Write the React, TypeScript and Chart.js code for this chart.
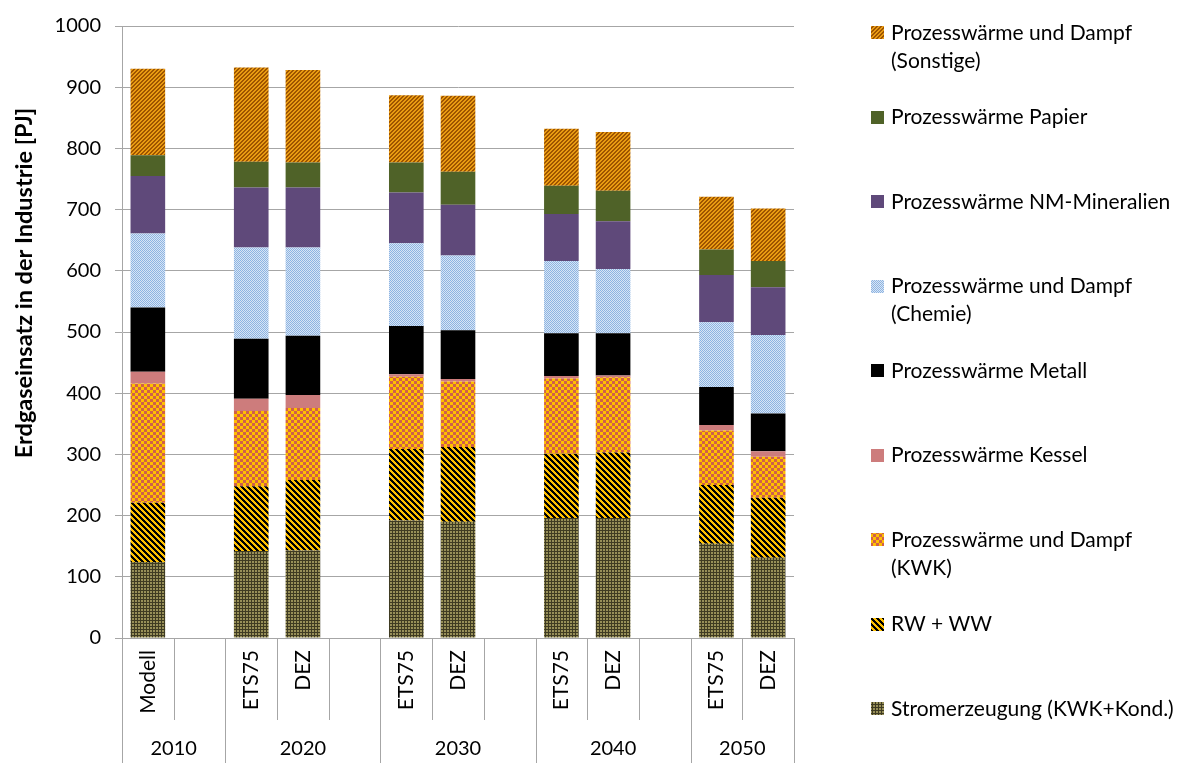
import React, { useEffect, useRef } from 'react';
import { Chart, registerables } from 'chart.js';

Chart.register(...registerables);

// Category slots along the x axis (empty strings are spacer slots)
const slotLabels = ['Modell', '', 'ETS75', 'DEZ', '', 'ETS75', 'DEZ', '', 'ETS75', 'DEZ', '', 'ETS75', 'DEZ'];
// Year groups and how many slots each one spans
const years = ['2010', '2020', '2030', '2040', '2050'];
const yearSlotCounts = [2, 3, 3, 3, 2];

// Natural gas use in industry [PJ], per slot (null = spacer slot)
const stromerzeugung = [124, null, 142, 143, null, 192, 190, null, 196, 196, null, 154, 131];
const rwWw = [97, null, 106, 115, null, 117, 122, null, 105, 107, null, 96, 98];
const kwk = [195, null, 123, 118, null, 118, 107, null, 123, 123, null, 89, 67];
const kessel = [19, null, 20, 21, null, 4, 4, null, 4, 3, null, 9, 9];
const metall = [105, null, 98, 97, null, 79, 80, null, 70, 69, null, 62, 62];
const chemie = [121, null, 149, 144, null, 135, 122, null, 118, 105, null, 106, 128];
const nmMineralien = [94, null, 98, 98, null, 83, 83, null, 77, 78, null, 77, 78];
const papier = [34, null, 42, 41, null, 49, 54, null, 46, 50, null, 42, 43];
const sonstige = [141, null, 154, 151, null, 110, 124, null, 93, 96, null, 86, 86];

const yTicksMax = 1000;
const yTickStep = 100;
const yTitle = 'Erdgaseinsatz in der Industrie [PJ]';

const FONT = 'Lato, "Liberation Sans", sans-serif';
const GRID = '#A6A6A6';

type Painter = (x: number, y: number) => string;

function pixelPattern(size: number, paint: Painter): CanvasPattern | string {
  const c = document.createElement('canvas');
  c.width = size;
  c.height = size;
  const g = c.getContext('2d');
  if (!g) return '#888';
  for (let y = 0; y < size; y++) {
    for (let x = 0; x < size; x++) {
      g.fillStyle = paint(x, y);
      g.fillRect(x, y, 1, 1);
    }
  }
  const p = g.createPattern(c, 'repeat');
  return p || '#888';
}

function makeFills() {
  return {
    sonstige: pixelPattern(4, (x, y) => ((x + y) % 4 < 2 ? '#E99B12' : '#9E5400')),
    papier: '#4F6228',
    nm: '#5F497A',
    chemie: pixelPattern(2, (x, y) => ((x + y) % 2 === 0 ? '#8DB4E2' : '#D8E5F5')),
    metall: '#000000',
    kessel: '#CD7C7C',
    kwk: pixelPattern(6, (x, y) => ((Math.floor(x / 3) + Math.floor(y / 3)) % 2 === 0 ? '#FFC000' : '#D0604A')),
    rw: pixelPattern(6, (x, y) => ((x - y + 12) % 6 < 3 ? '#000000' : '#FFC000')),
    strom: pixelPattern(3, (x, y) => (x === 2 || y === 2 ? '#3F3B22' : '#978F58')),
  };
}

export default function App() {
  const canvasRef = useRef<HTMLCanvasElement | null>(null);

  useEffect(() => {
    const canvas = canvasRef.current;
    if (!canvas) return;
    const f = makeFills();

    const datasets = [
      { label: 'Stromerzeugung (KWK+Kond.)', data: stromerzeugung, backgroundColor: f.strom },
      { label: 'RW + WW', data: rwWw, backgroundColor: f.rw },
      { label: 'Prozesswärme und Dampf\n(KWK)', data: kwk, backgroundColor: f.kwk },
      { label: 'Prozesswärme Kessel', data: kessel, backgroundColor: f.kessel },
      { label: 'Prozesswärme Metall', data: metall, backgroundColor: f.metall },
      { label: 'Prozesswärme und Dampf\n(Chemie)', data: chemie, backgroundColor: f.chemie },
      { label: 'Prozesswärme NM-Mineralien', data: nmMineralien, backgroundColor: f.nm },
      { label: 'Prozesswärme Papier', data: papier, backgroundColor: f.papier },
      { label: 'Prozesswärme und Dampf\n(Sonstige)', data: sonstige, backgroundColor: f.sonstige },
    ].map((d) => ({ ...d, borderWidth: 0, categoryPercentage: 1, barPercentage: 0.67 }));

    // Two-row category axis: slot separators and year labels, plus the y title
    const groupAxis = {
      id: 'groupAxis',
      afterDraw(chart: any) {
        const { ctx, chartArea } = chart;
        const xs = chart.scales.x;
        const n = slotLabels.length;
        const slot = (chartArea.right - chartArea.left) / n;
        const bounds = new Set<number>([0]);
        let acc = 0;
        yearSlotCounts.forEach((c) => {
          acc += c;
          bounds.add(acc);
        });
        ctx.save();
        ctx.strokeStyle = GRID;
        ctx.lineWidth = 1;
        for (let i = 0; i <= n; i++) {
          const x = Math.round(xs.getPixelForValue(0) - slot / 2 + i * slot) + 0.5;
          const yEnd = bounds.has(i) ? chart.height : chartArea.bottom + 82;
          ctx.beginPath();
          ctx.moveTo(x, chartArea.bottom);
          ctx.lineTo(x, yEnd);
          ctx.stroke();
        }
        ctx.fillStyle = '#000';
        ctx.font = `20px ${FONT}`;
        ctx.textAlign = 'center';
        ctx.textBaseline = 'middle';
        let start = 0;
        years.forEach((yr, k) => {
          const c = yearSlotCounts[k];
          const x = xs.getPixelForValue(0) - slot / 2 + (start + c / 2) * slot;
          ctx.fillText(yr, x, chartArea.bottom + 111);
          start += c;
        });

        ctx.translate(24, 283);
        ctx.rotate(-Math.PI / 2);
        ctx.font = `bold 23.5px ${FONT}`;
        ctx.fillText(yTitle, 0, 0);
        ctx.restore();
      },
    };

    // Legend to the right of the plot, top entry = top stack segment
    const sideLegend = {
      id: 'sideLegend',
      afterDraw(chart: any) {
        const { ctx } = chart;
        const ds = chart.data.datasets;
        ctx.save();
        ctx.font = `21px ${FONT}`;
        ctx.textAlign = 'left';
        ctx.textBaseline = 'middle';
        for (let k = 0; k < ds.length; k++) {
          const d = ds[ds.length - 1 - k];
          const y = 33 + k * 84.5;
          ctx.fillStyle = d.backgroundColor;
          ctx.fillRect(871, Math.round(y - 7), 13, 13);
          ctx.fillStyle = '#000';
          String(d.label)
            .split('\n')
            .forEach((line: string, j: number) => ctx.fillText(line, 891, y + j * 28));
        }
        ctx.restore();
      },
    };

    const chart = new Chart(canvas, {
      type: 'bar',
      data: { labels: slotLabels, datasets: datasets as any },
      plugins: [groupAxis, sideLegend],
      options: {
        animation: false,
        responsive: true,
        maintainAspectRatio: false,
        layout: { padding: { top: 20, right: 390, left: 0, bottom: 0 } },
        plugins: { legend: { display: false }, tooltip: { enabled: false } },
        scales: {
          x: {
            stacked: true,
            grid: { display: true, drawOnChartArea: false, drawTicks: false },
            border: { display: true, color: GRID, width: 1 },
            ticks: {
              autoSkip: false,
              minRotation: 90,
              maxRotation: 90,
              padding: 12,
              color: '#000',
              font: { family: FONT, size: 21 },
            },
            afterFit(scale: any) {
              scale.height = 125;
            },
          },
          y: {
            stacked: true,
            min: 0,
            max: yTicksMax,
            ticks: {
              stepSize: yTickStep,
              padding: 14,
              color: '#000',
              font: { family: FONT, size: 20 },
              callback: (v: any) => String(v),
            },
            grid: { color: GRID, lineWidth: 1, tickLength: 7 },
            border: { display: true, color: GRID, width: 1 },
            afterFit(scale: any) {
              scale.width = 122;
            },
          },
        },
      } as any,
    });

    return () => chart.destroy();
  }, []);

  return (
    <div style={{ position: 'absolute', left: 0, top: 0, width: 1184, height: 763, background: '#fff' }}>
      <canvas ref={canvasRef} />
    </div>
  );
}
